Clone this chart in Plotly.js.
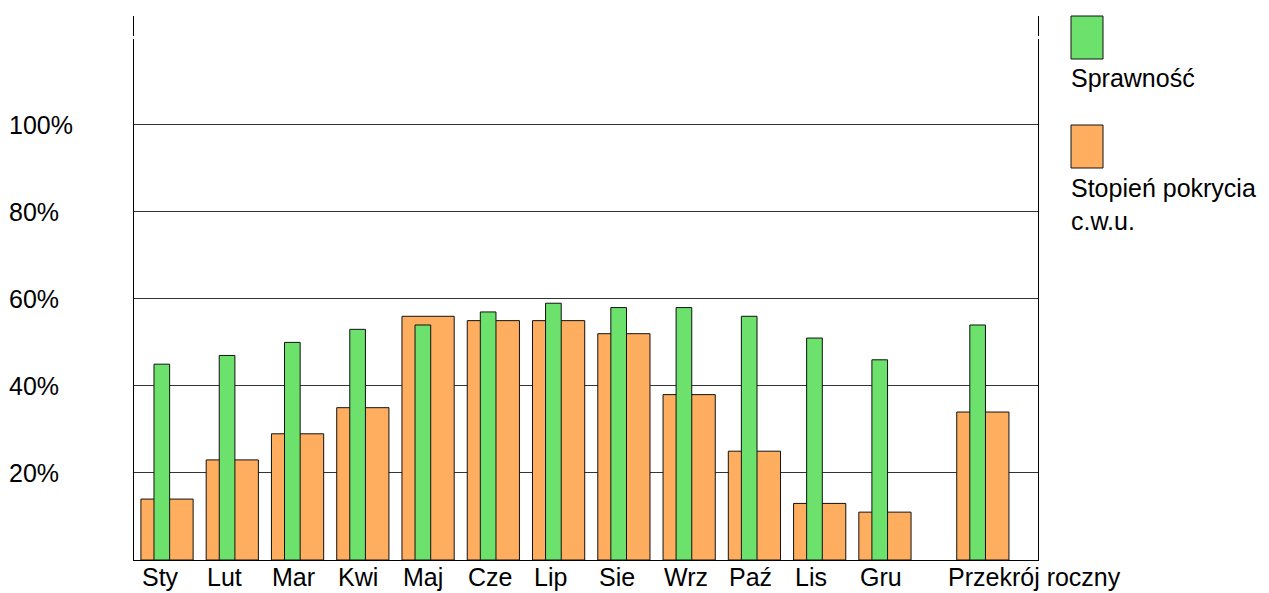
<!DOCTYPE html>
<html>
<head>
<meta charset="utf-8">
<script src="https://cdn.plot.ly/plotly-3.0.1.min.js"></script>
<style>html,body{margin:0;padding:0;background:#fff;}#chart{width:1269px;height:593px;}</style>
</head>
<body>
<div id="chart"></div>
<script>
// ---- data ----
var categories = ["Sty","Lut","Mar","Kwi","Maj","Cze","Lip","Sie","Wrz","Paź","Lis","Gru","Przekrój roczny"];
var sprawnosc = [45,47,50,53,54,57,59,58,58,56,51,46,54];
var pokrycie  = [14,23,29,35,56,55,55,52,38,25,13,11,34];
var yTicks = [20,40,60,80,100];
var seriesNames = ["Sprawność","Stopień pokrycia<br>c.w.u."];

// ---- layout helpers (pixel geometry of the plot frame) ----
var L = 134, R = 1038, T = 16, B = 560;
function px2x(p){ return (p - L) / (R - L); }
function py2y(p){ return (B - p) / (B - T); }
var FONT = "Liberation Sans, Arial, sans-serif";
var FS = 25;
var green = "#6ce16c", orange = "#ffae60";

var lastIdx = categories.length - 1;
var orangeOffset = categories.map(function(c,i){ return i === lastIdx ? 0.1 : -0.4; });
var greenOffset  = categories.map(function(c,i){ return i === lastIdx ? 0.3 : -0.2; });

var traces = [
  {type:"bar", x:categories, y:pokrycie, name:seriesNames[1], width:0.8, offset:orangeOffset,
   marker:{color:orange, line:{color:"#111", width:1}}, hoverinfo:"x+y"},
  {type:"bar", x:categories, y:sprawnosc, name:seriesNames[0], width:0.24, offset:greenOffset,
   marker:{color:green, line:{color:"#111", width:1}}, hoverinfo:"x+y"}
];

var annotations = [];
categories.forEach(function(c,i){
  var pos = (i === lastIdx ? i + 0.5 : i) - 0.4;
  annotations.push({xref:"x", yref:"paper", x:pos, y:0, xanchor:"left", yanchor:"top",
    xshift: i === lastIdx ? -10 : 0, yshift:-2, text:c, showarrow:false, borderpad:0,
    font:{family:FONT, size:FS, color:"#000"}});
});
yTicks.forEach(function(v){
  annotations.push({xref:"paper", yref:"y", x:px2x(8), y:v, xanchor:"left", yanchor:"middle",
    text:v + "%", showarrow:false, borderpad:0, font:{family:FONT, size:FS, color:"#000"}});
});
// legend texts
annotations.push({xref:"paper", yref:"paper", x:px2x(1070), y:py2y(63), xanchor:"left", yanchor:"top",
  text:seriesNames[0], showarrow:false, borderpad:0, align:"left", font:{family:FONT, size:FS, color:"#000"}});
annotations.push({xref:"paper", yref:"paper", x:px2x(1070), y:py2y(173), xanchor:"left", yanchor:"top",
  text:seriesNames[1], showarrow:false, borderpad:0, align:"left", font:{family:FONT, size:FS, color:"#000"}});

var shapes = [
  {type:"rect", xref:"paper", yref:"paper", x0:px2x(1071), x1:px2x(1103), y0:py2y(59), y1:py2y(16),
   fillcolor:green, line:{color:"#111", width:1}},
  {type:"rect", xref:"paper", yref:"paper", x0:px2x(1071), x1:px2x(1103), y0:py2y(168), y1:py2y(125),
   fillcolor:orange, line:{color:"#111", width:1}},
  // small breaks in the vertical frame lines near the top
  {type:"rect", xref:"paper", yref:"paper", x0:px2x(131), x1:px2x(137), y0:py2y(39), y1:py2y(36),
   fillcolor:"#fff", line:{width:0}, layer:"above"},
  {type:"rect", xref:"paper", yref:"paper", x0:px2x(1035), x1:px2x(1041), y0:py2y(39), y1:py2y(36),
   fillcolor:"#fff", line:{width:0}, layer:"above"}
];

var layout = {
  width:1269, height:593,
  margin:{l:L, r:1269-R, t:T, b:593-B, pad:0},
  paper_bgcolor:"#fff", plot_bgcolor:"#fff",
  showlegend:false, barmode:"overlay",
  font:{family:FONT, size:FS, color:"#000"},
  xaxis:{type:"category", categoryorder:"array", categoryarray:categories,
    range:[-0.506, 13.345], showticklabels:false, ticks:"", showgrid:false, zeroline:false,
    showline:true, linecolor:"#000", linewidth:1, fixedrange:true},
  yaxis:{range:[0,125], tickvals:yTicks, showticklabels:false, ticks:"", showgrid:true,
    gridcolor:"#333", gridwidth:1, zeroline:false, showline:true, mirror:true,
    linecolor:"#000", linewidth:1, fixedrange:true},
  annotations:annotations,
  shapes:shapes
};

Plotly.newPlot("chart", traces, layout, {displayModeBar:false, staticPlot:true});
</script>
</body>
</html>
